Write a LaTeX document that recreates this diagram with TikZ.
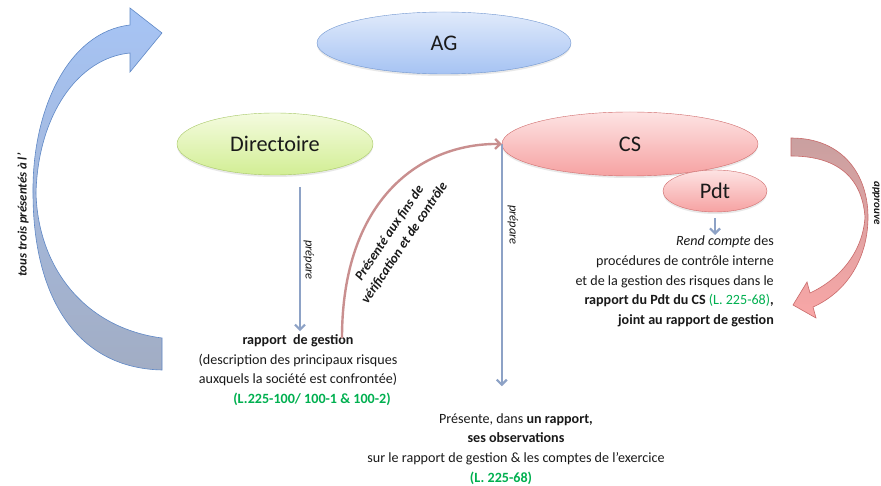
\documentclass[tikz,border=0pt]{standalone}
\usepackage{fontspec}
\setmainfont{Carlito}
\usetikzlibrary{shapes.geometric,arrows.meta,shadows}
\definecolor{txt}{HTML}{1A1A1A}
\definecolor{refgreen}{HTML}{00B050}
\definecolor{agtop}{HTML}{E0EAFB}
\definecolor{agbot}{HTML}{A6C3F3}
\definecolor{agline}{HTML}{7096D0}
\definecolor{dirtop}{HTML}{F4FBDF}
\definecolor{dirbot}{HTML}{D2EE94}
\definecolor{dirline}{HTML}{A7C866}
\definecolor{cstop}{HTML}{FDE3E3}
\definecolor{csbot}{HTML}{F6A2A2}
\definecolor{csline}{HTML}{D06C6C}
\definecolor{linkblue}{HTML}{8DA2C6}
\definecolor{linkrose}{HTML}{C98F8F}
\definecolor{bluetop}{HTML}{A6C4F5}
\definecolor{bluebot}{HTML}{A2ADC4}
\definecolor{blueline}{HTML}{5F88C6}
\definecolor{redtop}{HTML}{C9A0A0}
\definecolor{redbot}{HTML}{F9A6A6}
\definecolor{redline}{HTML}{C96A6A}
\tikzset{
  organ/.style={
    ellipse, draw, inner sep=0pt, text=txt,
    font=\fontsize{22.3}{25}\selectfont,
    drop shadow={shadow xshift=0pt, shadow yshift=-2pt, opacity=0.18}
  },
  agcol/.style={top color=agtop, bottom color=agbot, draw=agline},
  dircol/.style={top color=dirtop, bottom color=dirbot, draw=dirline},
  cscol/.style={top color=cstop, bottom color=csbot, draw=csline},
  link/.style={draw=linkblue, line width=2.2pt,
    -{Straight Barb[length=5pt,width=10pt]}},
  txtblock/.style={text=txt, inner sep=3pt,
    font=\fontsize{14.1}{19.75}\selectfont},
  sidelabel/.style={text=txt, inner sep=1pt,
    font=\fontsize{12.5}{14}\selectfont\itshape},
  boldlabel/.style={text=txt, inner sep=1pt,
    font=\fontsize{13.5}{18}\selectfont\bfseries\itshape},
  bigblue/.style={top color=bluetop, bottom color=bluebot, draw=blueline, line width=0.6pt},
  bigred/.style={top color=redtop, bottom color=redbot, draw=redline, line width=0.6pt},
}

\begin{document}
\begin{tikzpicture}[x=1pt, y=-1pt]
  \fill[white] (0,0) rectangle (881,486);
  \useasboundingbox (0,0) rectangle (881,486);
  %
  % ==================================================================
  % Organs
  % ==================================================================
  \node[organ, agcol, minimum width=254pt, minimum height=62pt] (ag) at (444,43) {AG};
  \node[organ, dircol, minimum width=196pt, minimum height=62pt] (dir) at (275,144) {Directoire};
  \node[organ, cscol, minimum width=256pt, minimum height=64pt] (cs) at (630,144) {CS};
  \node[organ, cscol, minimum width=104pt, minimum height=42pt] (pdt) at (715,191) {Pdt};
  %
  % ==================================================================
  % Text blocks
  % ==================================================================
  \node[txtblock, align=center] (rapport) at (298,370)
    {\textbf{rapport\ \ de gestion}\\
     (description des principaux risques\\
     auxquels la société est confrontée)\\
     \hspace*{28pt}{\color{refgreen}\textbf{(L.225-100/ 100-1 \& 100-2)}}};
  \node[txtblock, align=center] (obs) at (516,449)
    {Présente, dans \textbf{un rapport,}\\
     \textbf{ses observations}\hspace*{12pt}\\
     sur le rapport de gestion \& les comptes de l’exercice\\
     {\color{refgreen}\textbf{(L. 225-68)}}\hspace*{30pt}};
  \node[txtblock, align=right, anchor=east] (rend) at (777,281.5)
    {\textit{Rend compte} des\\
     procédures de contrôle interne\\
     et de la gestion des risques dans le\\
     \textbf{rapport du Pdt du CS} {\color{refgreen}(L. 225-68)}\textbf{,}\\
     \textbf{joint au rapport de gestion}};
  %
  % ==================================================================
  % Connectors
  % ==================================================================
  \coordinate (dirout) at (300,187);
  \coordinate (presfrom) at (342,338);
  \coordinate (pdtout) at (715,235);
  \draw[link] (dirout) -- (dirout |- rapport.north);
  \draw[link, shorten >=24pt] (cs.west) -- (cs.west |- obs.north);
  \draw[link, shorten <=6pt] (pdt.south) -- (pdtout);
  \draw[draw=linkrose, line width=2.4pt, -{Straight Barb[length=5pt,width=10pt]}]
    (presfrom) .. controls (342,200) and (420,143) .. (cs.west);
  %
  % big block arrows
  \path[bigblue] (162,338) .. controls (85,328) and (38,268) .. (36,193)
    .. controls (38,115) and (78,58) .. (130,53)
    -- (130,72) -- (162,33) -- (130,8) -- (130,25)
    .. controls (68,32) and (32,110) .. (33,193)
    .. controls (33,295) and (75,368) .. (162,370) -- cycle;
  \path[bigred]
    (791,138) .. controls (843,138) and (868,175) .. (868,217)
    .. controls (868,258) and (847,292) .. (813,307)
    -- (816,318) -- (793,305) -- (807,282) -- (810,293)
    .. controls (842,278) and (863,250) .. (865,217)
    .. controls (862,178) and (838,156) .. (791,156) -- cycle;
  %
  % ==================================================================
  % Labels
  % ==================================================================
  \node[sidelabel, rotate=-90] (prep1) at (309,260) {prépare};
  \node[sidelabel, rotate=-90] (prep2) at (513,225) {prépare};
  \node[boldlabel, rotate=90, font=\fontsize{12.8}{15}\selectfont\bfseries\itshape]
    (trois) at (23,215) {tous trois présentés à l’};
  \node[boldlabel, rotate=-90, font=\fontsize{11}{12}\selectfont\bfseries\itshape]
    (approuve) at (876,203) {approuve};
  \node[boldlabel, rotate=56, align=center] (fins) at (397,238)
    {Présenté aux fins de\\vérification et de contrôle};
\end{tikzpicture}
\end{document}
